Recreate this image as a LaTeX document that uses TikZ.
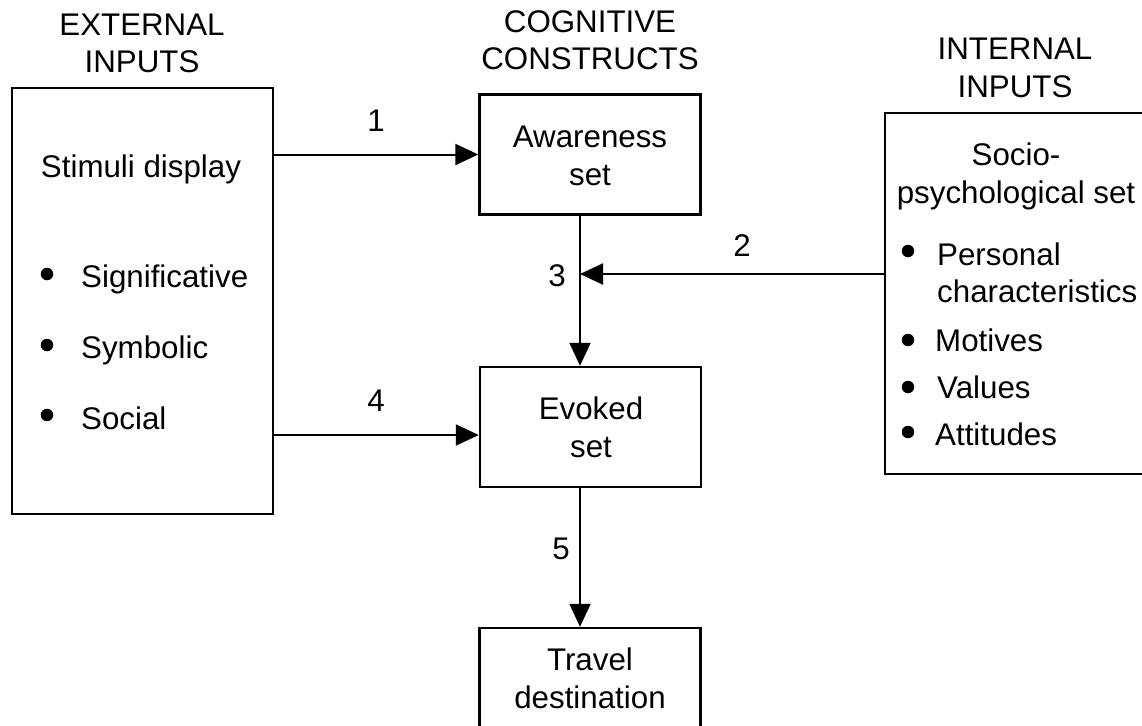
\documentclass[tikz,border=0pt]{standalone}
\usepackage{fontspec}
\setmainfont{Liberation Sans}
\usetikzlibrary{arrows.meta}
\begin{document}
\begin{tikzpicture}[x=1pt,y=-1pt,
  every node/.style={font=\fontsize{31.3}{37.5}\selectfont},
  box/.style={draw, line width=2.4pt, inner sep=0pt},
  txt/.style={anchor=base, inner sep=0pt},
  lbl/.style={align=center, inner sep=0pt, anchor=base},
  dot/.style={circle, fill, inner sep=0pt, minimum size=12.5pt},
  conn/.style={line width=2pt, -{Triangle[length=23pt,width=21pt]}},
  plain/.style={line width=2pt}]
\useasboundingbox (0,0) rectangle (1142,725);

% headings (anchored at the baseline of their last line)
\node[lbl] (hext) at (142,73) {EXTERNAL\\INPUTS};
\node[lbl] (hcog) at (590,70) {COGNITIVE\\CONSTRUCTS};
\node[lbl] (hint) at (1015,97) {INTERNAL\\INPUTS};

% boxes
\node[box, minimum width=261pt, minimum height=426pt] (ext) at (142.5,301) {};
\node[box, minimum width=221pt, minimum height=120pt] (aware) at (590,154.5) {};
\node[box, minimum width=221pt, minimum height=120pt] (evoked) at (590.5,427) {};
\node[box, minimum width=221pt, minimum height=120pt] (travel) at (590,688) {};
\node[box, minimum width=270pt, minimum height=361pt] (int) at (1020,293.5) {};

% box texts
\node[txt] (tstim) at (141,177) {Stimuli display};
\node[lbl] (taware) at (590,185) {Awareness\\set};
\node[lbl] (tevoked) at (591,457) {Evoked\\set};
\node[lbl] (ttravel) at (590,708) {Travel\\destination};
\node[lbl] (tsocio) at (1016,203) {Socio-\\psychological set};

% external inputs list
\node[dot] (b1) at (47,274) {};
\node[dot] (b2) at (47,345) {};
\node[dot] (b3) at (47,415) {};
\node[txt, anchor=base west] (t1) at (81,287) {Significative};
\node[txt, anchor=base west] (t2) at (81,358) {Symbolic};
\node[txt, anchor=base west] (t3) at (81,429) {Social};

% internal inputs list
\node[dot] (c1) at (908,251) {};
\node[dot] (c2) at (908,340) {};
\node[dot] (c3) at (908,387) {};
\node[dot] (c4) at (908,432) {};
\node[txt, anchor=base west] (u1) at (937,265) {Personal};
\node[txt, anchor=base west] (u1b) at (937,302) {characteristics};
\node[txt, anchor=base west] (u2) at (935,351) {Motives};
\node[txt, anchor=base west] (u3) at (937,398) {Values};
\node[txt, anchor=base west] (u4) at (935,445) {Attitudes};

% connectors
\coordinate (vx) at (580,0);
\coordinate (join) at (580,274);
\coordinate (row4) at (0,435);
\draw[conn] (ext.east |- aware.west) -- (aware.west);
\draw[plain] (aware.south -| vx) -- (join);
\draw[conn] (join) -- (evoked.north -| vx);
\draw[conn] (int.west |- join) -- (join);
\draw[conn] (ext.east |- row4) -- (evoked.west |- row4);
\draw[conn] (evoked.south -| vx) -- (travel.north -| vx);

% connector numbers
\node[txt] (n1) at (376,131) {1};
\node[txt] (n2) at (742,256) {2};
\node[txt] (n3) at (557,286) {3};
\node[txt] (n4) at (376,411) {4};
\node[txt] (n5) at (561,559) {5};
\end{tikzpicture}
\end{document}
